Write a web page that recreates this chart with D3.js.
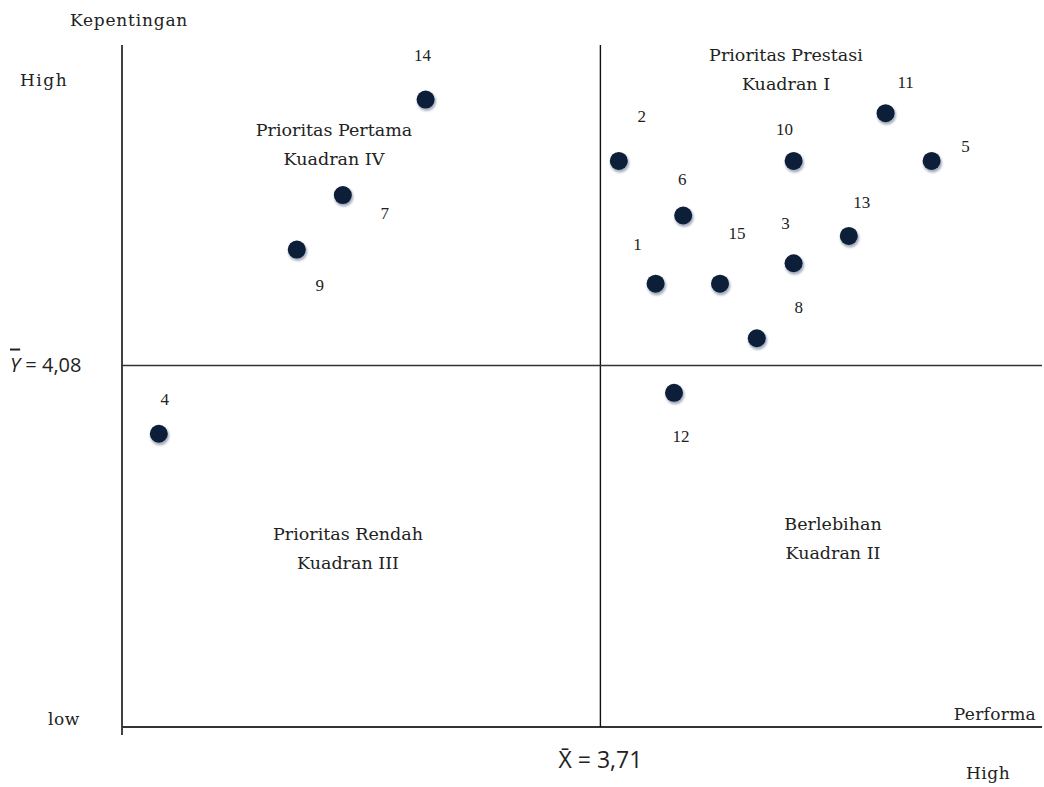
<!DOCTYPE html>
<html><head><meta charset="utf-8">
<script src="https://cdn.jsdelivr.net/npm/d3@7"></script>
<style>
html,body{margin:0;padding:0;background:#fff;}
text{fill:#222;}
</style></head>
<body>
<svg id="chart" width="1044" height="787"></svg>
<script>
// Data
const ids = [1,2,3,4,5,6,7,8,9,10,11,12,13,14,15];
const performa = [3.77,3.73,3.92,3.23,4.07,3.80,3.43,3.88,3.38,3.92,4.02,3.79,3.98,3.52,3.84];
const kepentingan = [4.20,4.38,4.23,3.98,4.38,4.30,4.33,4.12,4.25,4.38,4.45,4.04,4.27,4.47,4.20];
const meanX = 3.71, meanY = 4.08;
const meanXLabel = "X\u0304 = 3,71", meanYLabel = "= 4,08";
const quadrants = [
  {lines:["Prioritas Prestasi","Kuadran I"], qx:"hi", qy:"hi"},
  {lines:["Berlebihan","Kuadran II"], qx:"hi", qy:"lo"},
  {lines:["Prioritas Rendah","Kuadran III"], qx:"lo", qy:"lo"},
  {lines:["Prioritas Pertama","Kuadran IV"], qx:"lo", qy:"hi"}
];
// layout (label placement offsets, px)
const labelOffset = {1:[-18,-40],2:[23,-45],3:[-8,-40],4:[6,-35],5:[34,-15],6:[-1,-37],7:[42,18],8:[42,-31],9:[23,35],10:[-9,-32],11:[20,-31],12:[7,43],13:[13,-34],14:[-3,-45],15:[17,-51]};
const quadPos = {"hi,hi":[786,55],"hi,lo":[833,524],"lo,lo":[348,534],"lo,hi":[334,130]};

const SERIF = "'DejaVu Serif',serif";
const TIMES = "'Liberation Serif','DejaVu Serif',serif";
const SANS = "'Open Sans','DejaVu Sans',sans-serif";

const svg = d3.select("#chart");
const x = d3.scaleLinear().domain([3.19,4.19]).range([122,1042]);
const y = d3.scaleLinear().domain([3.55,4.55]).range([727,45]);

const defs = svg.append("defs");
const f = defs.append("filter").attr("id","sh").attr("x","-50%").attr("y","-50%").attr("width","200%").attr("height","200%");
f.append("feGaussianBlur").attr("stdDeviation",0.9);

// axes lines
svg.append("line").attr("x1",x.range()[0]).attr("x2",x.range()[0]).attr("y1",45).attr("y2",735).attr("stroke","#111").attr("stroke-width",1.6);
svg.append("line").attr("x1",x.range()[0]).attr("x2",1042).attr("y1",y.range()[0]).attr("y2",y.range()[0]).attr("stroke","#333").attr("stroke-width",1.8);
// mean lines
svg.append("line").attr("x1",x(meanX)).attr("x2",x(meanX)).attr("y1",45).attr("y2",y.range()[0]).attr("stroke","#111").attr("stroke-width",1.4);
svg.append("line").attr("x1",x.range()[0]).attr("x2",1042).attr("y1",y(meanY)).attr("y2",y(meanY)).attr("stroke","#333").attr("stroke-width",1.6);

// axis texts
const T = (xx,yy,s,size,fam,anchor)=>svg.append("text").attr("x",xx).attr("y",yy).attr("font-size",size)
  .attr("font-family",fam).attr("text-anchor",anchor||"start").text(s);
T(129,26,"Kepentingan",17,SERIF,"middle").attr("letter-spacing",0.8);
T(20,86,"High",17,SERIF).attr("letter-spacing",1.5);
T(48,725,"low",17,SERIF).attr("letter-spacing",0.5);
T(1036,720,"Performa",17,SERIF,"end").attr("letter-spacing",0.3);
T(966,779,"High",17,SERIF).attr("letter-spacing",0.5);
T(x(meanX),y.range()[0]+41,meanXLabel,23,SANS,"middle");
const yl = svg.append("text").attr("x",10).attr("y",y(meanY)+6).attr("font-size",20).attr("font-family",SANS);
yl.append("tspan").attr("font-style","italic").attr("text-decoration","overline").text("Y");
yl.append("tspan").text(" " + meanYLabel);

// quadrant labels
quadrants.forEach(q=>{
  const p = quadPos[q.qx+","+q.qy];
  const t = svg.append("text").attr("text-anchor","middle").attr("font-size",17.5).attr("font-family",SERIF);
  q.lines.forEach((l,i)=>t.append("tspan").attr("x",p[0]).attr("y",p[1]+6+i*29).text(l));
});

// points
const data = ids.map((id,i)=>({id, px:performa[i], ky:kepentingan[i]}));
svg.append("g").selectAll("circle").data(data).join("circle")
  .attr("cx",d=>x(d.px)+1).attr("cy",d=>y(d.ky)+2).attr("r",9.5)
  .attr("fill","#5a6a8a").attr("opacity",0.55).attr("filter","url(#sh)");
svg.append("g").selectAll("circle").data(data).join("circle")
  .attr("cx",d=>x(d.px)).attr("cy",d=>y(d.ky)).attr("r",9)
  .attr("fill","#0c1e38");
svg.append("g").selectAll("text").data(data).join("text")
  .attr("x",d=>x(d.px)+labelOffset[d.id][0]).attr("y",d=>y(d.ky)+labelOffset[d.id][1]+6)
  .attr("text-anchor","middle").attr("font-size",17).attr("font-family",TIMES).text(d=>d.id);
</script>
</body></html>
